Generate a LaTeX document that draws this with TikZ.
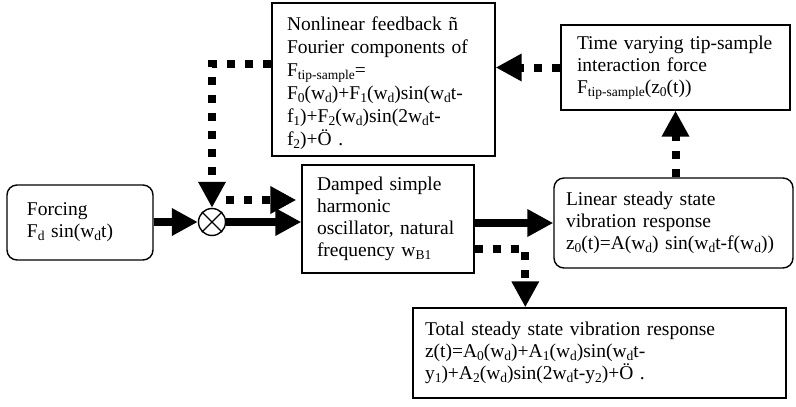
\documentclass[tikz,border=0pt]{standalone}
\usepackage{fontspec}
\setmainfont{Liberation Serif}
\usetikzlibrary{arrows.meta,calc}
% lowered, smaller subscript text
\newcommand\sub[1]{\raisebox{-3pt}{\fontsize{13.5}{14}\selectfont #1}}

\begin{document}
\begin{tikzpicture}[x=1pt,y=-1pt,
  box/.style={draw, line width=1.4pt, align=left, inner ysep=0pt,
    font=\fontsize{19.5}{22}\selectfont},
  rbox/.style={box, rounded corners=10pt},
  solidarrow/.style={line width=8pt, -{Triangle[length=26pt,width=26pt]}},
  dotarrow/.style={line width=8pt, dash pattern=on 8pt off 10pt,
    -{Triangle[length=26pt,width=26pt]}},
]
\useasboundingbox (0,0) rectangle (796,407);

% blocks
\node[box, minimum width=223pt, minimum height=153pt, inner xsep=15pt,
  text width=193pt, font=\fontsize{19.5}{23}\selectfont] (nl) at (383.5,79.5)
  {\rule{0pt}{22pt}Nonlinear feedback ñ\\Fourier components of\\F\sub{tip-sample}=\\
   F\sub{0}(w\sub{d})+F\sub{1}(w\sub{d})sin(w\sub{d}t-\\
   f\sub{1})+F\sub{2}(w\sub{d})sin(2w\sub{d}t-\\f\sub{2})+Ö .};

\node[box, minimum width=229pt, minimum height=85pt, inner xsep=16pt,
  text width=197pt] (tv) at (675.5,67.5)
  {Time varying tip-sample\\interaction force\\F\sub{tip-sample}(z\sub{0}(t))};

\node[rbox, minimum width=146pt, minimum height=75pt, inner xsep=20pt,
  text width=106pt] (force) at (80,222.5)
  {Forcing\\F\sub{d} sin(w\sub{d}t)};

\node[draw, circle, line width=1.4pt, minimum size=27pt, inner sep=0pt] (mix) at (212,222) {};
\draw[line width=1.2pt] (mix.45) -- (mix.225) (mix.135) -- (mix.315);

\node[box, minimum width=172pt, minimum height=108pt, inner xsep=15pt,
  text width=142pt] (osc) at (388,219)
  {Damped simple\\harmonic\\oscillator, natural\\frequency w\sub{B1}};

\node[rbox, minimum width=239pt, minimum height=90pt, inner xsep=12pt,
  text width=215pt] (lin) at (673.5,223)
  {Linear steady state\\vibration response\\
   z\sub{0}(t)=A(w\sub{d}) sin(w\sub{d}t-f(w\sub{d}))};

\node[box, minimum width=373pt, minimum height=90pt, inner xsep=12pt,
  text width=349pt] (tot) at (599.5,353)
  {Total steady state vibration response\\
   z(t)=A\sub{0}(w\sub{d})+A\sub{1}(w\sub{d})sin(w\sub{d}t-\\
   y\sub{1})+A\sub{2}(w\sub{d})sin(2w\sub{d}t-y\sub{2})+Ö .};

% connectors
\draw[solidarrow] (force.east |- mix.west) -- (mix.west);
\draw[solidarrow] (mix.east) -- (mix.east -| osc.west);
\draw[dotarrow] ([yshift=15.5pt]nl.west) -| (mix.north);
\draw[dotarrow] ([yshift=22pt]mix.east) -- ([xshift=-5pt,yshift=19pt]osc.west);
\draw[solidarrow] (osc.east |- lin.west) -- (lin.west);
\draw[dotarrow] (tv.south |- lin.north) -- (tv.south);
\draw[dotarrow] (tv.west) -- (tv.west -| nl.east);
\draw[dotarrow] ([yshift=-30pt]osc.east) -| ([xshift=113pt]tot.north west);
\end{tikzpicture}
\end{document}
